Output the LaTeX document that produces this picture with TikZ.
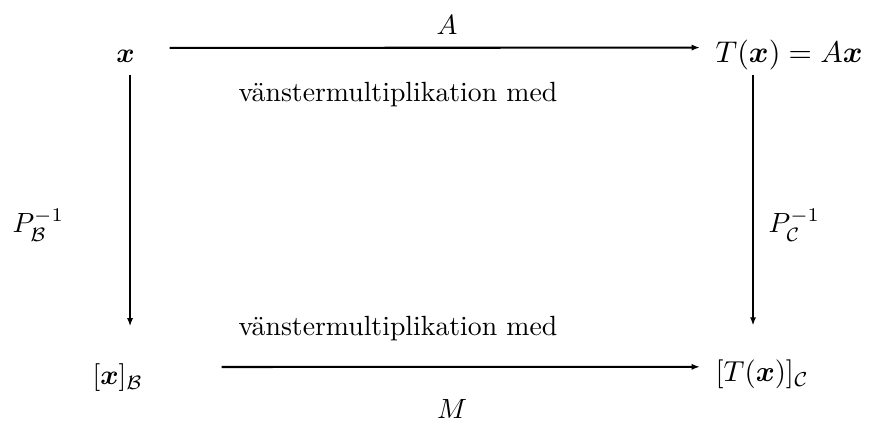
\documentclass[tikz,border=0pt]{standalone}
\usepackage{amsmath, amssymb}
\usepackage{fontspec}
\usepackage{tikz}
\usetikzlibrary{arrows.meta, calc}

\begin{document}
\begin{tikzpicture}[font=\normalsize,
    arr/.style={-{Latex[length=3pt, width=2.2pt]}, line width=0.75pt},
    obj/.style={inner sep=0pt, anchor=base west}]
  \useasboundingbox (0,0) rectangle (11.0,5.329);
  % hörnen
  \node[inner sep=0pt, anchor=base] (x) at (1.589,4.544) {$\boldsymbol{x}$};
  \node[obj, scale=1.08] (Tx) at (9.051,4.532) {$T(\boldsymbol{x}) = A\boldsymbol{x}$};
  \node[obj] (xB) at (1.165,0.456) {$[\boldsymbol{x}]_{\mathcal{B}}$};
  \node[obj, scale=1.04] (TxC) at (9.051,0.494) {$[T(\boldsymbol{x})]_{\mathcal{C}}$};
  % pilar
  \draw[arr] ($(x.east)+(0.435,0.10)$) -- ($(Tx.west)+(-0.19,0.10)$);
  \draw[arr] ($(xB.east)+(0.99,0.14)$) -- ($(TxC.west)+(-0.19,0.10)$);
  \draw[arr] ($(x.south)+(0.057,-0.152)$) -- ($(x.south |- xB.north)+(0.057,0.47)$);
  \draw[arr] ($(Tx.south west)+(0.481,-0.052)$) -- ($(Tx.south west |- TxC.north)+(0.481,0.432)$);
  % etiketter
  \node[anchor=base] (lblA) at (5.658,4.886) {$A$};
  \node[inner sep=0pt, anchor=base west] (txtTop) at (3.013,4.038) {vänstermultiplikation med};
  \node[inner sep=0pt, anchor=base west] (txtBot) at (3.013,1.076) {vänstermultiplikation med};
  \node[inner sep=0pt, anchor=base] (lblM) at (5.722,0.03) {$M$};
  \node[inner sep=0pt, anchor=base west] (lblPB) at (0.152,2.38) {$P_{\mathcal{B}}^{-1}$};
  \node[inner sep=0pt, anchor=base west] (lblPC) at (9.722,2.38) {$P_{\mathcal{C}}^{-1}$};
\end{tikzpicture}
\end{document}
